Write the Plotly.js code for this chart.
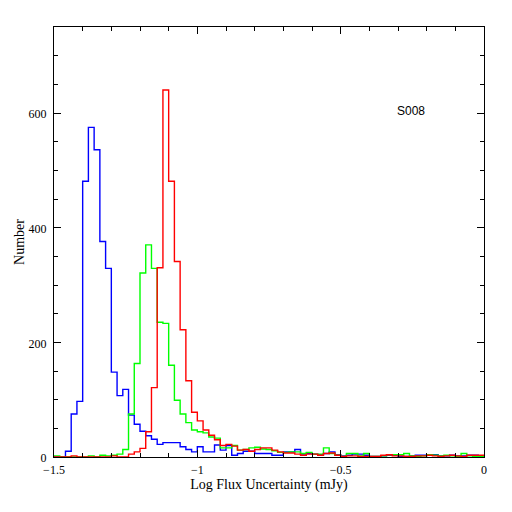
<!DOCTYPE html>
<html>
<head>
<meta charset="utf-8">
<script src="https://cdn.plot.ly/plotly-3.0.1.min.js"></script>
<style>html,body{margin:0;padding:0;background:#fff;}#chart{width:512px;height:512px;}</style>
</head>
<body>
<div id="chart"></div>
<script>
// Histogram bins: left edges start at binStart, width binWidth (75 bins from -1.50 to 0)
const binStart = -1.5;
const binWidth = 0.02;

const blueCounts = [
  0, 0, 10, 75, 97, 481, 575, 536, 376, 329,
  148, 107, 118, 73, 57, 45, 37, 31, 22, 25,
  25, 25, 18, 13, 9, 18, 9, 9, 21, 12,
  20, 3, 6, 10, 10, 6, 6, 6, 3, 3,
  9, 9, 13, 5, 6, 5, 4, 6, 9, 4,
  2, 3, 5, 5, 3, 1, 1, 2, 3, 3,
  1, 1, 2, 3, 3, 4, 4, 2, 2, 3,
  2, 2, 3, 3, 2
];
const greenCounts = [
  2, 0, 0, 0, 0, 0, 2, 0, 3, 2,
  3, 5, 13, 75, 163, 321, 370, 329, 235, 233,
  160, 99, 75, 60, 47, 44, 42, 35, 33, 16,
  16, 20, 12, 13, 16, 17, 14, 13, 11, 8,
  8, 9, 9, 6, 8, 5, 5, 16, 6, 3,
  1, 6, 6, 2, 6, 1, 1, 2, 4, 4,
  4, 6, 2, 1, 2, 4, 3, 2, 3, 2,
  1, 6, 2, 1, 1
];
const redCounts = [
  0, 0, 0, 2, 0, 0, 0, 0, 0, 0,
  2, 0, 0, 5, 9, 15, 44, 121, 330, 640,
  481, 341, 222, 133, 78, 63, 47, 38, 30, 20,
  22, 19, 12, 13, 10, 13, 16, 16, 12, 9,
  7, 7, 5, 3, 5, 5, 3, 6, 7, 3,
  1, 2, 2, 1, 1, 1, 1, 3, 4, 2,
  2, 1, 1, 2, 2, 3, 2, 1, 2, 3,
  2, 1, 3, 3, 3
];

const xTickVals = [-1.5, -1, -0.5, 0];
const xTickText = ['\u22121.5', '\u22121', '\u22120.5', '0'];
const yTickVals = [0, 200, 400, 600];
const yTickText = ['0', '200', '400', '600'];

const xTitle = 'Log Flux Uncertainty (mJy)';
const yTitle = 'Number';
const label = 'S008';

function stepTrace(counts, color) {
  const x = [], y = [];
  for (let i = 0; i <= counts.length; i++) {
    x.push(binStart + i * binWidth);
    y.push(i < counts.length ? counts[i] : counts[counts.length - 1]);
  }
  return {x: x, y: y, type: 'scatter', mode: 'lines',
          line: {shape: 'hv', color: color, width: 1.4},
          hoverinfo: 'skip', showlegend: false};
}

const data = [
  stepTrace(blueCounts, '#0000ff'),
  stepTrace(greenCounts, '#00ff00'),
  stepTrace(redCounts, '#ff0000')
];

const serif = 'Liberation Serif, Times New Roman, serif';
const axisCommon = {
  showgrid: false, zeroline: false, showline: true, linecolor: '#000', linewidth: 1,
  mirror: 'allticks', ticks: 'inside', tickcolor: '#000', tickwidth: 1, ticklen: 7,
  tickfont: {family: serif, size: 12, color: '#000'}
};

const layout = {
  width: 512, height: 512,
  margin: {l: 54, r: 28, t: 27, b: 55},
  paper_bgcolor: '#fff', plot_bgcolor: '#fff',
  showlegend: false,
  xaxis: Object.assign({}, axisCommon, {
    range: [-1.5, 0], tickmode: 'array', tickvals: xTickVals, ticktext: xTickText,
    ticklabelstandoff: 2,
    minor: {dtick: 0.1, tick0: 0, ticks: 'inside', ticklen: 4, tickcolor: '#000', tickwidth: 1, showgrid: false},
    title: {text: xTitle, font: {family: serif, size: 14, color: '#000'}, standoff: 2}
  }),
  yaxis: Object.assign({}, axisCommon, {
    range: [0, 750], tickmode: 'array', tickvals: yTickVals, ticktext: yTickText,
    ticklabelstandoff: 4, ticklabelshift: 1,
    minor: {dtick: 50, tick0: 0, ticks: 'inside', ticklen: 4, tickcolor: '#000', tickwidth: 1, showgrid: false},
    title: {text: yTitle, font: {family: serif, size: 14, color: '#000'}, standoff: 0}
  }),
  annotations: [{
    x: -0.256, y: 603, xref: 'x', yref: 'y', text: label, showarrow: false,
    font: {family: 'Liberation Sans, Arial, sans-serif', size: 12, color: '#000'},
    xanchor: 'center', yanchor: 'middle'
  }]
};

Plotly.newPlot('chart', data, layout, {staticPlot: true, displayModeBar: false});
</script>
</body>
</html>
